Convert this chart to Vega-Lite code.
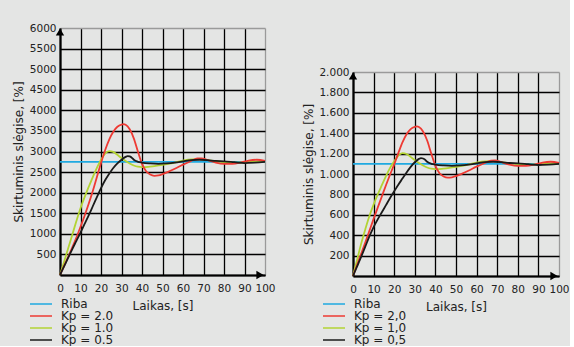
{
  "$schema": "https://vega.github.io/schema/vega-lite/v6.json",
  "background": "#e4e5e4",
  "padding": {"left": 12, "top": 23, "right": 0, "bottom": 0},
  "config": {
    "font": "DejaVu Sans",
    "view": {"stroke": null},
    "axis": {
      "domainColor": "#000",
      "domainWidth": 2.2,
      "ticks": false,
      "labelFont": "DejaVu Sans",
      "labelFontSize": 10.5,
      "labelColor": "#222",
      "labelFlush": false,
      "labelOverlap": false,
      "titleFont": "DejaVu Sans",
      "titleFontSize": 12,
      "titleFontWeight": "normal",
      "titleColor": "#222",
      "gridWidth": 1.3,
      "gridOpacity": 1
    },
    "legend": {
      "orient": "none",
      "legendX": -31,
      "legendY": 270,
      "title": null,
      "padding": 0,
      "symbolType": "stroke",
      "symbolSize": 484,
      "symbolStrokeWidth": 1.5,
      "clipHeight": 12,
      "rowPadding": 0,
      "labelOffset": 8,
      "labelFont": "DejaVu Sans",
      "labelFontSize": 12,
      "labelColor": "#222"
    }
  },
  "spacing": 26,
  "hconcat": [
    {
      "width": 205,
      "height": 247,
      "layer": [
        {
          "data": {"values": [
            {"t":0,"v":2750,"s":"Riba"},{"t":100,"v":2750,"s":"Riba"},
            {"t":0,"v":0,"s":"Kp = 1.0"},{"t":2,"v":320,"s":"Kp = 1.0"},{"t":4,"v":650,"s":"Kp = 1.0"},{"t":6,"v":980,"s":"Kp = 1.0"},{"t":8,"v":1310,"s":"Kp = 1.0"},{"t":10,"v":1620,"s":"Kp = 1.0"},{"t":12,"v":1890,"s":"Kp = 1.0"},{"t":14,"v":2140,"s":"Kp = 1.0"},{"t":16,"v":2380,"s":"Kp = 1.0"},{"t":18,"v":2600,"s":"Kp = 1.0"},{"t":20,"v":2800,"s":"Kp = 1.0"},{"t":22,"v":2950,"s":"Kp = 1.0"},{"t":24,"v":3010,"s":"Kp = 1.0"},{"t":26,"v":2990,"s":"Kp = 1.0"},{"t":28,"v":2920,"s":"Kp = 1.0"},{"t":30,"v":2840,"s":"Kp = 1.0"},{"t":32,"v":2770,"s":"Kp = 1.0"},{"t":34,"v":2710,"s":"Kp = 1.0"},{"t":36,"v":2660,"s":"Kp = 1.0"},{"t":38,"v":2630,"s":"Kp = 1.0"},{"t":40,"v":2620,"s":"Kp = 1.0"},{"t":43,"v":2625,"s":"Kp = 1.0"},{"t":46,"v":2645,"s":"Kp = 1.0"},{"t":50,"v":2675,"s":"Kp = 1.0"},{"t":55,"v":2720,"s":"Kp = 1.0"},{"t":60,"v":2780,"s":"Kp = 1.0"},{"t":64,"v":2810,"s":"Kp = 1.0"},{"t":68,"v":2815,"s":"Kp = 1.0"},{"t":72,"v":2790,"s":"Kp = 1.0"},{"t":76,"v":2760,"s":"Kp = 1.0"},{"t":80,"v":2740,"s":"Kp = 1.0"},{"t":85,"v":2730,"s":"Kp = 1.0"},{"t":90,"v":2740,"s":"Kp = 1.0"},{"t":95,"v":2755,"s":"Kp = 1.0"},{"t":100,"v":2760,"s":"Kp = 1.0"},
            {"t":0,"v":0,"s":"Kp = 2.0"},{"t":2,"v":220,"s":"Kp = 2.0"},{"t":4,"v":440,"s":"Kp = 2.0"},{"t":6,"v":670,"s":"Kp = 2.0"},{"t":8,"v":910,"s":"Kp = 2.0"},{"t":10,"v":1170,"s":"Kp = 2.0"},{"t":12,"v":1440,"s":"Kp = 2.0"},{"t":14,"v":1730,"s":"Kp = 2.0"},{"t":16,"v":2040,"s":"Kp = 2.0"},{"t":18,"v":2380,"s":"Kp = 2.0"},{"t":20,"v":2720,"s":"Kp = 2.0"},{"t":22,"v":3030,"s":"Kp = 2.0"},{"t":24,"v":3290,"s":"Kp = 2.0"},{"t":26,"v":3480,"s":"Kp = 2.0"},{"t":28,"v":3600,"s":"Kp = 2.0"},{"t":30,"v":3655,"s":"Kp = 2.0"},{"t":31,"v":3665,"s":"Kp = 2.0"},{"t":32,"v":3650,"s":"Kp = 2.0"},{"t":34,"v":3540,"s":"Kp = 2.0"},{"t":36,"v":3320,"s":"Kp = 2.0"},{"t":38,"v":3000,"s":"Kp = 2.0"},{"t":40,"v":2700,"s":"Kp = 2.0"},{"t":42,"v":2520,"s":"Kp = 2.0"},{"t":44,"v":2440,"s":"Kp = 2.0"},{"t":46,"v":2410,"s":"Kp = 2.0"},{"t":48,"v":2420,"s":"Kp = 2.0"},{"t":50,"v":2450,"s":"Kp = 2.0"},{"t":53,"v":2510,"s":"Kp = 2.0"},{"t":56,"v":2580,"s":"Kp = 2.0"},{"t":60,"v":2680,"s":"Kp = 2.0"},{"t":64,"v":2770,"s":"Kp = 2.0"},{"t":67,"v":2830,"s":"Kp = 2.0"},{"t":69,"v":2835,"s":"Kp = 2.0"},{"t":72,"v":2790,"s":"Kp = 2.0"},{"t":76,"v":2730,"s":"Kp = 2.0"},{"t":80,"v":2700,"s":"Kp = 2.0"},{"t":84,"v":2700,"s":"Kp = 2.0"},{"t":88,"v":2730,"s":"Kp = 2.0"},{"t":92,"v":2780,"s":"Kp = 2.0"},{"t":96,"v":2800,"s":"Kp = 2.0"},{"t":100,"v":2770,"s":"Kp = 2.0"},
            {"t":0,"v":0,"s":"Kp = 0.5"},{"t":2,"v":210,"s":"Kp = 0.5"},{"t":4,"v":420,"s":"Kp = 0.5"},{"t":6,"v":630,"s":"Kp = 0.5"},{"t":8,"v":830,"s":"Kp = 0.5"},{"t":10,"v":1030,"s":"Kp = 0.5"},{"t":12,"v":1240,"s":"Kp = 0.5"},{"t":14,"v":1450,"s":"Kp = 0.5"},{"t":16,"v":1670,"s":"Kp = 0.5"},{"t":18,"v":1890,"s":"Kp = 0.5"},{"t":20,"v":2110,"s":"Kp = 0.5"},{"t":22,"v":2300,"s":"Kp = 0.5"},{"t":24,"v":2460,"s":"Kp = 0.5"},{"t":26,"v":2600,"s":"Kp = 0.5"},{"t":28,"v":2710,"s":"Kp = 0.5"},{"t":30,"v":2800,"s":"Kp = 0.5"},{"t":32,"v":2870,"s":"Kp = 0.5"},{"t":33,"v":2890,"s":"Kp = 0.5"},{"t":34,"v":2880,"s":"Kp = 0.5"},{"t":35,"v":2850,"s":"Kp = 0.5"},{"t":36,"v":2800,"s":"Kp = 0.5"},{"t":38,"v":2750,"s":"Kp = 0.5"},{"t":40,"v":2730,"s":"Kp = 0.5"},{"t":44,"v":2710,"s":"Kp = 0.5"},{"t":48,"v":2700,"s":"Kp = 0.5"},{"t":52,"v":2710,"s":"Kp = 0.5"},{"t":56,"v":2730,"s":"Kp = 0.5"},{"t":60,"v":2760,"s":"Kp = 0.5"},{"t":64,"v":2790,"s":"Kp = 0.5"},{"t":68,"v":2800,"s":"Kp = 0.5"},{"t":72,"v":2790,"s":"Kp = 0.5"},{"t":76,"v":2770,"s":"Kp = 0.5"},{"t":80,"v":2760,"s":"Kp = 0.5"},{"t":85,"v":2740,"s":"Kp = 0.5"},{"t":90,"v":2720,"s":"Kp = 0.5"},{"t":95,"v":2730,"s":"Kp = 0.5"},{"t":100,"v":2750,"s":"Kp = 0.5"}
          ]},
          "mark": {"type": "line", "strokeWidth": 1.8, "interpolate": "monotone"},
          "encoding": {
            "x": {"field": "t", "type": "quantitative", "scale": {"domain": [0, 100], "nice": false},
              "axis": {"values": [0,10,20,30,40,50,60,70,80,90,100], "title": "Laikas, [s]", "labelPadding": 8, "titlePadding": 7,
                "gridColor": {"condition": {"test": "datum.value == 100", "value": "#9a9a9a"}, "value": "#000"}}},
            "y": {"field": "v", "type": "quantitative", "scale": {"domain": [0, 6000], "nice": false},
              "axis": {"values": [0,500,1000,1500,2000,2500,3000,3500,4000,4500,5000,5500,6000], "format": "d",
                "labelExpr": "datum.value == 0 ? '' : datum.label", "title": "Skirtuminis slėgise, [%]", "labelPadding": 4, "titlePadding": 4,
                "gridColor": {"condition": {"test": "datum.value == 6000", "value": "#9a9a9a"}, "value": "#000"}}},
            "color": {"field": "s", "type": "nominal",
              "scale": {"domain": ["Riba", "Kp = 2.0", "Kp = 1.0", "Kp = 0.5"], "range": ["#1fa9e1", "#ee3a33", "#b3d334", "#1a1a1a"]}}
          }
        },
        {
          "data": {"values": [{}]},
          "mark": {"type": "point", "shape": "triangle-up", "filled": true, "color": "#000", "opacity": 1, "size": 70, "yOffset": 4},
          "encoding": {
            "x": {"datum": 0, "type": "quantitative", "axis": {"values": [0,10,20,30,40,50,60,70,80,90,100]}},
            "y": {"datum": 6000, "type": "quantitative", "axis": {"values": [0,500,1000,1500,2000,2500,3000,3500,4000,4500,5000,5500,6000]}}
          }
        },
        {
          "data": {"values": [{}]},
          "mark": {"type": "point", "shape": "triangle-right", "filled": true, "color": "#000", "opacity": 1, "size": 70, "xOffset": -5},
          "encoding": {
            "x": {"datum": 100, "type": "quantitative", "axis": {"values": [0,10,20,30,40,50,60,70,80,90,100]}},
            "y": {"datum": 0, "type": "quantitative", "axis": {"values": [0,500,1000,1500,2000,2500,3000,3500,4000,4500,5000,5500,6000]}}
          }
        }
      ]
    },
    {
      "spacing": 0,
      "vconcat": [
        {
          "width": 206,
          "height": 39,
          "data": {"values": []},
          "mark": "point"
        },
        {
          "width": 206,
          "height": 204,
          "layer": [
            {
              "data": {"values": [
                {"t":0,"v":1100,"s":"Riba"},{"t":100,"v":1100,"s":"Riba"},
                {"t":0,"v":0,"s":"Kp = 1,0"},{"t":2,"v":160,"s":"Kp = 1,0"},{"t":4,"v":320,"s":"Kp = 1,0"},{"t":6,"v":460,"s":"Kp = 1,0"},{"t":8,"v":590,"s":"Kp = 1,0"},{"t":10,"v":700,"s":"Kp = 1,0"},{"t":12,"v":800,"s":"Kp = 1,0"},{"t":14,"v":890,"s":"Kp = 1,0"},{"t":16,"v":980,"s":"Kp = 1,0"},{"t":18,"v":1060,"s":"Kp = 1,0"},{"t":20,"v":1125,"s":"Kp = 1,0"},{"t":22,"v":1180,"s":"Kp = 1,0"},{"t":24,"v":1205,"s":"Kp = 1,0"},{"t":26,"v":1196,"s":"Kp = 1,0"},{"t":28,"v":1168,"s":"Kp = 1,0"},{"t":30,"v":1136,"s":"Kp = 1,0"},{"t":32,"v":1108,"s":"Kp = 1,0"},{"t":34,"v":1084,"s":"Kp = 1,0"},{"t":36,"v":1064,"s":"Kp = 1,0"},{"t":38,"v":1052,"s":"Kp = 1,0"},{"t":40,"v":1048,"s":"Kp = 1,0"},{"t":43,"v":1050,"s":"Kp = 1,0"},{"t":46,"v":1058,"s":"Kp = 1,0"},{"t":50,"v":1070,"s":"Kp = 1,0"},{"t":55,"v":1088,"s":"Kp = 1,0"},{"t":60,"v":1112,"s":"Kp = 1,0"},{"t":64,"v":1124,"s":"Kp = 1,0"},{"t":68,"v":1126,"s":"Kp = 1,0"},{"t":72,"v":1116,"s":"Kp = 1,0"},{"t":76,"v":1104,"s":"Kp = 1,0"},{"t":80,"v":1096,"s":"Kp = 1,0"},{"t":85,"v":1092,"s":"Kp = 1,0"},{"t":90,"v":1096,"s":"Kp = 1,0"},{"t":95,"v":1102,"s":"Kp = 1,0"},{"t":100,"v":1104,"s":"Kp = 1,0"},
                {"t":0,"v":0,"s":"Kp = 2,0"},{"t":2,"v":110,"s":"Kp = 2,0"},{"t":4,"v":220,"s":"Kp = 2,0"},{"t":6,"v":330,"s":"Kp = 2,0"},{"t":8,"v":445,"s":"Kp = 2,0"},{"t":10,"v":560,"s":"Kp = 2,0"},{"t":12,"v":670,"s":"Kp = 2,0"},{"t":14,"v":780,"s":"Kp = 2,0"},{"t":16,"v":890,"s":"Kp = 2,0"},{"t":18,"v":995,"s":"Kp = 2,0"},{"t":20,"v":1095,"s":"Kp = 2,0"},{"t":22,"v":1205,"s":"Kp = 2,0"},{"t":24,"v":1310,"s":"Kp = 2,0"},{"t":26,"v":1390,"s":"Kp = 2,0"},{"t":28,"v":1440,"s":"Kp = 2,0"},{"t":30,"v":1462,"s":"Kp = 2,0"},{"t":31,"v":1466,"s":"Kp = 2,0"},{"t":32,"v":1460,"s":"Kp = 2,0"},{"t":34,"v":1416,"s":"Kp = 2,0"},{"t":36,"v":1328,"s":"Kp = 2,0"},{"t":38,"v":1200,"s":"Kp = 2,0"},{"t":40,"v":1080,"s":"Kp = 2,0"},{"t":42,"v":1008,"s":"Kp = 2,0"},{"t":44,"v":976,"s":"Kp = 2,0"},{"t":46,"v":964,"s":"Kp = 2,0"},{"t":48,"v":968,"s":"Kp = 2,0"},{"t":50,"v":980,"s":"Kp = 2,0"},{"t":53,"v":1004,"s":"Kp = 2,0"},{"t":56,"v":1032,"s":"Kp = 2,0"},{"t":60,"v":1072,"s":"Kp = 2,0"},{"t":64,"v":1108,"s":"Kp = 2,0"},{"t":67,"v":1132,"s":"Kp = 2,0"},{"t":69,"v":1134,"s":"Kp = 2,0"},{"t":72,"v":1116,"s":"Kp = 2,0"},{"t":76,"v":1092,"s":"Kp = 2,0"},{"t":80,"v":1080,"s":"Kp = 2,0"},{"t":84,"v":1080,"s":"Kp = 2,0"},{"t":88,"v":1092,"s":"Kp = 2,0"},{"t":92,"v":1112,"s":"Kp = 2,0"},{"t":96,"v":1120,"s":"Kp = 2,0"},{"t":100,"v":1108,"s":"Kp = 2,0"},
                {"t":0,"v":0,"s":"Kp = 0,5"},{"t":2,"v":95,"s":"Kp = 0,5"},{"t":4,"v":190,"s":"Kp = 0,5"},{"t":6,"v":290,"s":"Kp = 0,5"},{"t":8,"v":390,"s":"Kp = 0,5"},{"t":10,"v":480,"s":"Kp = 0,5"},{"t":12,"v":555,"s":"Kp = 0,5"},{"t":14,"v":625,"s":"Kp = 0,5"},{"t":16,"v":695,"s":"Kp = 0,5"},{"t":18,"v":765,"s":"Kp = 0,5"},{"t":20,"v":830,"s":"Kp = 0,5"},{"t":22,"v":895,"s":"Kp = 0,5"},{"t":24,"v":955,"s":"Kp = 0,5"},{"t":26,"v":1015,"s":"Kp = 0,5"},{"t":28,"v":1070,"s":"Kp = 0,5"},{"t":30,"v":1115,"s":"Kp = 0,5"},{"t":32,"v":1148,"s":"Kp = 0,5"},{"t":33,"v":1156,"s":"Kp = 0,5"},{"t":34,"v":1152,"s":"Kp = 0,5"},{"t":35,"v":1140,"s":"Kp = 0,5"},{"t":36,"v":1120,"s":"Kp = 0,5"},{"t":38,"v":1100,"s":"Kp = 0,5"},{"t":40,"v":1092,"s":"Kp = 0,5"},{"t":44,"v":1084,"s":"Kp = 0,5"},{"t":48,"v":1080,"s":"Kp = 0,5"},{"t":52,"v":1084,"s":"Kp = 0,5"},{"t":56,"v":1092,"s":"Kp = 0,5"},{"t":60,"v":1104,"s":"Kp = 0,5"},{"t":64,"v":1116,"s":"Kp = 0,5"},{"t":68,"v":1120,"s":"Kp = 0,5"},{"t":72,"v":1116,"s":"Kp = 0,5"},{"t":76,"v":1108,"s":"Kp = 0,5"},{"t":80,"v":1104,"s":"Kp = 0,5"},{"t":85,"v":1096,"s":"Kp = 0,5"},{"t":90,"v":1088,"s":"Kp = 0,5"},{"t":95,"v":1092,"s":"Kp = 0,5"},{"t":100,"v":1100,"s":"Kp = 0,5"}
              ]},
              "mark": {"type": "line", "strokeWidth": 1.8, "interpolate": "monotone"},
              "encoding": {
                "x": {"field": "t", "type": "quantitative", "scale": {"domain": [0, 100], "nice": false},
                  "axis": {"values": [0,10,20,30,40,50,60,70,80,90,100], "title": "Laikas, [s]", "labelPadding": 8, "titlePadding": 7,
                    "gridColor": {"condition": {"test": "datum.value == 100", "value": "#9a9a9a"}, "value": "#000"}}},
                "y": {"field": "v", "type": "quantitative", "scale": {"domain": [0, 2000], "nice": false},
                  "axis": {"values": [0,200,400,600,800,1000,1200,1400,1600,1800,2000],
                    "labelExpr": "datum.value == 0 ? '' : replace(format(datum.value, ','), ',', '.')", "title": "Skirtuminis slėgise, [%]", "labelPadding": 4, "titlePadding": 3,
                    "gridColor": {"condition": {"test": "datum.value == 2000", "value": "#9a9a9a"}, "value": "#000"}}},
                "color": {"field": "s", "type": "nominal",
                  "scale": {"domain": ["Riba", "Kp = 2,0", "Kp = 1,0", "Kp = 0,5"], "range": ["#1fa9e1", "#ee3a33", "#b3d334", "#1a1a1a"]}}
              }
            },
            {
              "data": {"values": [{}]},
              "mark": {"type": "point", "shape": "triangle-up", "filled": true, "color": "#000", "opacity": 1, "size": 70, "yOffset": 4},
              "encoding": {
                "x": {"datum": 0, "type": "quantitative", "axis": {"values": [0,10,20,30,40,50,60,70,80,90,100]}},
                "y": {"datum": 2000, "type": "quantitative", "axis": {"values": [0,200,400,600,800,1000,1200,1400,1600,1800,2000]}}
              }
            },
            {
              "data": {"values": [{}]},
              "mark": {"type": "point", "shape": "triangle-right", "filled": true, "color": "#000", "opacity": 1, "size": 70, "xOffset": -5},
              "encoding": {
                "x": {"datum": 100, "type": "quantitative", "axis": {"values": [0,10,20,30,40,50,60,70,80,90,100]}},
                "y": {"datum": 0, "type": "quantitative", "axis": {"values": [0,200,400,600,800,1000,1200,1400,1600,1800,2000]}}
              }
            }
          ]
        }
      ]
    }
  ],
  "resolve": {"scale": {"color": "independent"}}
}
